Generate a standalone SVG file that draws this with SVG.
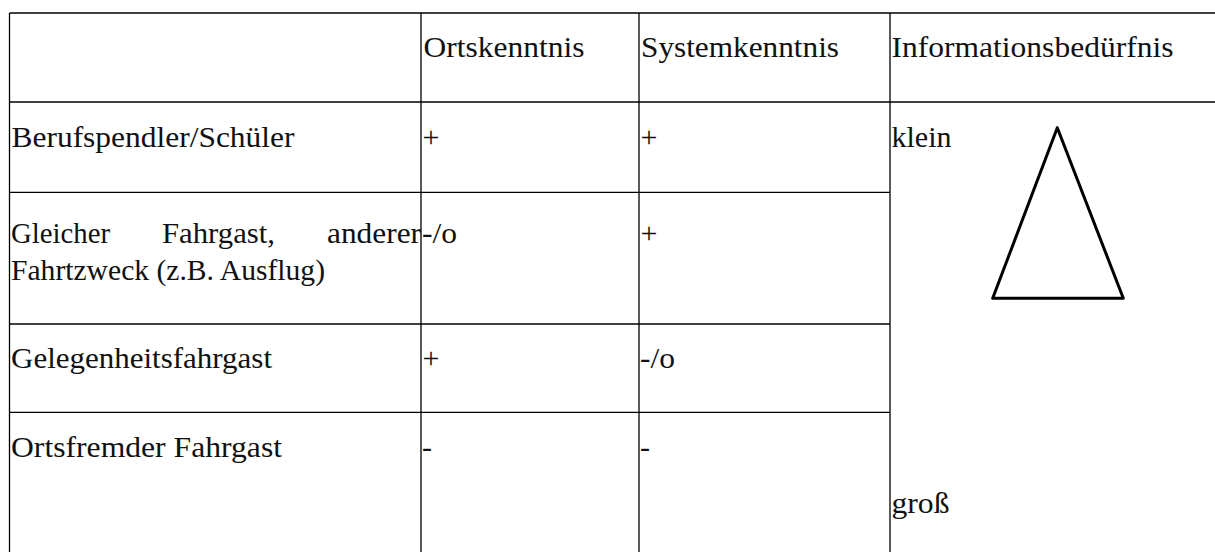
<svg xmlns="http://www.w3.org/2000/svg" width="1215" height="552" viewBox="0 0 1215 552">
<style>
text { font-family: "Liberation Serif", "DejaVu Serif", serif; font-size: 30px; fill: #111; }
.grid line { stroke: #000; stroke-width: 1.3; }
.tri { fill: none; stroke: #000; stroke-width: 3; stroke-linejoin: round; }
</style>
<rect width="1215" height="552" fill="#fff"/>
<g id="grid" class="grid">
  <line x1="9.5" y1="13" x2="1215" y2="13"/>
  <line x1="9.5" y1="102" x2="1215" y2="102"/>
  <line x1="9.5" y1="192.3" x2="890" y2="192.3"/>
  <line x1="9.5" y1="324" x2="890" y2="324"/>
  <line x1="9.5" y1="412.3" x2="890" y2="412.3"/>
  <line x1="9.5" y1="13" x2="9.5" y2="552"/>
  <line x1="421" y1="13" x2="421" y2="552"/>
  <line x1="639" y1="13" x2="639" y2="552"/>
  <line x1="890" y1="13" x2="890" y2="552"/>
</g>
<g id="header">
  <text x="423.5" y="57" textLength="161" lengthAdjust="spacingAndGlyphs">Ortskenntnis</text>
  <text x="641" y="57" textLength="198" lengthAdjust="spacingAndGlyphs">Systemkenntnis</text>
  <text x="891.5" y="57" textLength="282" lengthAdjust="spacingAndGlyphs">Informationsbedürfnis</text>
</g>
<g id="row-berufspendler">
  <text x="11.5" y="147" textLength="283" lengthAdjust="spacingAndGlyphs">Berufspendler/Schüler</text>
  <text x="422.5" y="147">+</text>
  <text x="640.5" y="147">+</text>
</g>
<g id="row-gleicher">
  <text y="243"><tspan x="11" textLength="99" lengthAdjust="spacingAndGlyphs">Gleicher</tspan> <tspan x="162" textLength="113" lengthAdjust="spacingAndGlyphs">Fahrgast,</tspan> <tspan x="327" textLength="94" lengthAdjust="spacingAndGlyphs">anderer</tspan></text>
  <text x="11" y="280" textLength="314" lengthAdjust="spacingAndGlyphs">Fahrtzweck (z.B. Ausflug)</text>
  <text x="422" y="243" textLength="35" lengthAdjust="spacingAndGlyphs">-/o</text>
  <text x="640.5" y="243">+</text>
</g>
<g id="row-gelegenheit">
  <text x="11" y="368" textLength="261" lengthAdjust="spacingAndGlyphs">Gelegenheitsfahrgast</text>
  <text x="422.5" y="368">+</text>
  <text x="640" y="368" textLength="35" lengthAdjust="spacingAndGlyphs">-/o</text>
</g>
<g id="row-ortsfremd">
  <text x="11" y="457" textLength="271" lengthAdjust="spacingAndGlyphs">Ortsfremder Fahrgast</text>
  <text x="422" y="457">-</text>
  <text x="640" y="457">-</text>
</g>
<g id="scale">
  <text x="891.5" y="147" textLength="60" lengthAdjust="spacingAndGlyphs">klein</text>
  <polygon class="tri" points="1057.3,127.7 992.7,298.3 1123.3,298.3"/>
  <text x="891.5" y="513" textLength="58" lengthAdjust="spacingAndGlyphs">groß</text>
</g>
</svg>
